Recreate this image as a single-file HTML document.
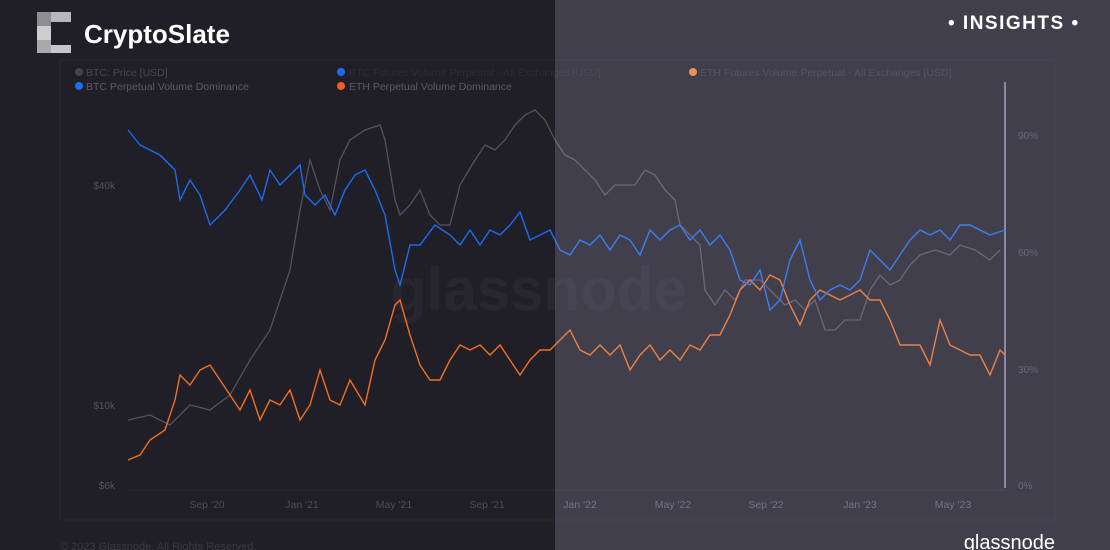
<!DOCTYPE html>
<html><head><style>
body{margin:0;width:1110px;height:550px;overflow:hidden;background:#201f27;font-family:"Liberation Sans",sans-serif;position:relative}
</style></head><body>
<svg width="1110" height="550" style="position:absolute;left:0;top:0">
<rect x="60" y="60" width="995" height="460" fill="none" stroke="#ffffff" stroke-opacity="0.04"/>
<g opacity="0.9">
<rect x="37" y="12" width="14" height="14" fill="#9a9aa0"/><rect x="51" y="12" width="20" height="10" fill="#c8c8cc"/>
<rect x="37" y="26" width="14" height="14" fill="#e0e0e0"/><rect x="37" y="40" width="14" height="13" fill="#b8b8bc"/>
<rect x="51" y="45" width="20" height="8" fill="#d8d8dc"/>
</g>
<text x="84" y="43" fill="#fff" font-size="26" font-weight="bold">CryptoSlate</text>
<g font-size="10.5">
<circle cx="79" cy="72" r="4" fill="#4a4046"/><text x="86" y="76" fill="#4a4650">BTC: Price [USD]</text>
<circle cx="79" cy="86" r="4" fill="#1a6cf0"/><text x="86" y="90" fill="#5c5a66">BTC Perpetual Volume Dominance</text>
<circle cx="341" cy="72" r="4" fill="#1a6cf0"/><text x="349" y="76" fill="#2e2d38">BTC Futures Volume Perpetual - All Exchanges [USD]</text>
<circle cx="341" cy="86" r="4" fill="#f06020"/><text x="349" y="90" fill="#5c5a66">ETH Perpetual Volume Dominance</text>
<circle cx="693" cy="72" r="4" fill="#f08030"/><text x="700" y="76" fill="#3a3944">ETH Futures Volume Perpetual - All Exchanges [USD]</text>
</g>
<text x="390" y="310" fill="#fff" opacity="0.035" font-size="60" font-weight="bold">glassnode</text>
<g font-size="10" fill="#55535f">
<text x="115" y="189" text-anchor="end">$40k</text><text x="115" y="409" text-anchor="end">$10k</text><text x="115" y="489" text-anchor="end">$6k</text>
<text x="1018" y="139">90%</text><text x="1018" y="256">60%</text><text x="1018" y="373">30%</text><text x="1018" y="489">0%</text>
</g>
<g font-size="10.5" text-anchor="middle" fill="#4e4c58">
<text x="207" y="508">Sep '20</text><text x="302" y="508">Jan '21</text><text x="394" y="508">May '21</text><text x="487" y="508">Sep '21</text>
<text x="580" y="508" fill="#605e6c">Jan '22</text><text x="673" y="508" fill="#605e6c">May '22</text><text x="766" y="508" fill="#605e6c">Sep '22</text><text x="860" y="508" fill="#605e6c">Jan '23</text><text x="953" y="508" fill="#605e6c">May '23</text>
</g>
<line x1="1005" y1="82" x2="1005" y2="488" stroke="#9a98b4" stroke-width="1.5"/>
<line x1="128" y1="490" x2="1005" y2="490" stroke="#fff" stroke-opacity="0.05"/>
<polyline fill="none" stroke="#5a5058" stroke-width="1.3" points="128,420 150,415 170,425 190,405 210,410 230,395 250,360 270,330 290,270 300,210 310,160 320,190 330,210 340,160 350,140 365,130 380,125 385,140 395,200 400,215 410,205 420,190 430,215 440,225 450,225 460,185 475,160 485,145 495,150 505,140 515,125 525,115 535,110 545,120 555,140 565,155 575,160 585,170 595,180 605,195 615,185 625,185 635,185 645,170 655,175 665,190 675,200 680,225 690,235 700,245 705,290 715,305 725,290 735,300 745,280 760,280 770,290 785,305 795,300 805,310 815,300 825,330 835,330 845,320 860,320 870,290 880,275 890,285 900,280 910,265 920,255 935,250 950,255 960,245 975,250 990,260 1000,250"/>
<polyline fill="none" stroke="#f07020" stroke-width="1.4" points="128,460 140,455 150,440 165,430 175,400 180,375 190,385 200,370 210,365 220,380 230,395 240,410 250,390 260,420 270,400 280,405 290,390 300,420 310,405 320,370 330,400 340,405 350,380 365,405 375,360 385,340 395,305 400,300 410,335 420,365 430,380 440,380 450,360 460,345 470,350 480,345 490,355 500,345 510,360 520,375 530,360 540,350 550,350 560,340 570,330 580,350 590,355 600,345 610,355 620,345 630,370 640,355 650,345 660,360 670,350 680,360 690,345 700,350 710,335 720,335 730,315 740,290 750,280 760,290 770,275 780,280 790,305 800,325 810,300 820,290 830,295 840,300 850,295 860,290 870,300 880,300 890,320 900,345 910,345 920,345 930,365 940,320 950,345 960,350 970,355 980,355 990,375 1000,350 1005,355"/>
<polyline fill="none" stroke="#1a6cf0" stroke-width="1.4" points="128,130 140,145 160,155 175,170 180,200 190,180 200,195 210,225 225,210 240,190 250,175 262,200 270,170 280,185 290,175 300,165 305,195 315,205 325,195 335,215 345,190 355,175 365,170 375,190 385,215 395,270 400,285 410,245 420,245 435,225 450,235 460,245 470,230 480,245 490,230 500,235 510,225 520,212 530,240 540,235 550,230 560,250 570,255 580,240 590,245 600,235 610,250 620,235 630,240 640,255 650,230 660,240 670,230 680,225 690,240 700,230 710,245 720,235 730,250 740,280 750,285 760,270 770,310 780,300 790,260 800,240 810,280 820,300 830,290 840,285 850,290 860,280 870,250 880,260 890,270 900,255 910,240 920,230 930,235 940,230 950,240 960,225 970,225 980,230 990,235 1005,230"/>
<text x="60" y="550" fill="#3a3944" font-size="11">© 2023 Glassnode. All Rights Reserved.</text>
<rect x="555" y="0" width="555" height="550" fill="#d7d1fa" fill-opacity="0.18"/>
<text x="948" y="29" fill="#fff" font-size="19" font-weight="bold" letter-spacing="1.5">• INSIGHTS •</text>
<text x="1055" y="549" fill="#fff" font-size="20" text-anchor="end">glassnode</text>
</svg>
</body></html>
